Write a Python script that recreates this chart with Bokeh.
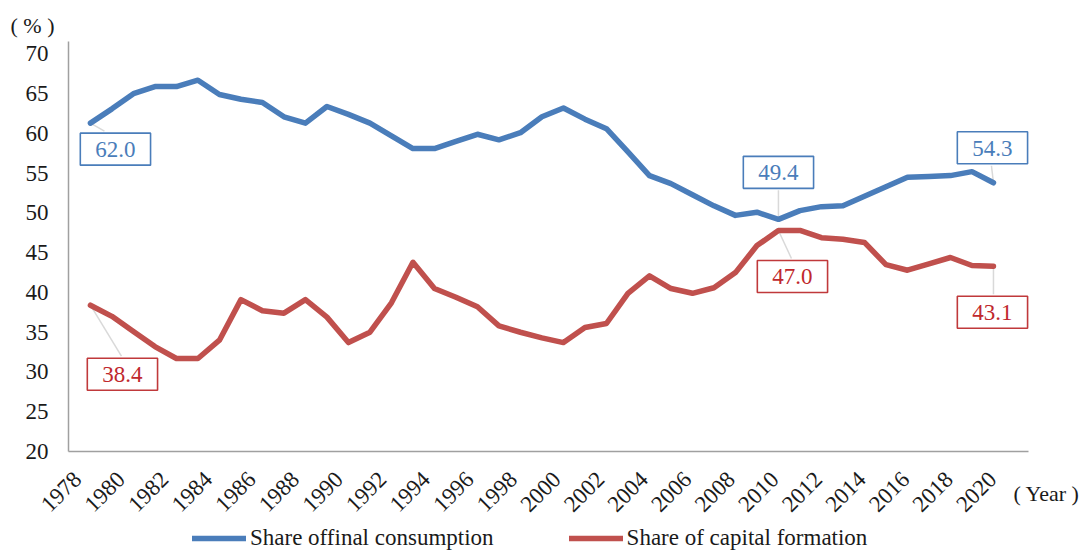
import math
from bokeh.plotting import figure
from bokeh.models import (FixedTicker, Label, Legend, LegendItem, LinearAxis, Range1d)
from bokeh.embed import file_html
from bokeh.resources import INLINE

# ---------------- data ----------------
years = list(range(1978, 2021))
consumption = [61.3, 63.1, 65.0, 65.9, 65.9, 66.7, 64.9, 64.3, 63.9, 62.1,
               61.3, 63.4, 62.4, 61.3, 59.7, 58.1, 58.1, 59.0, 59.9, 59.2,
               60.1, 62.1, 63.2, 61.8, 60.6, 57.7, 54.7, 53.7, 52.3, 50.9,
               49.7, 50.1, 49.2, 50.3, 50.8, 50.9, 52.1, 53.3, 54.5, 54.6,
               54.7, 55.2, 53.8]
capital = [38.4, 37.0, 35.1, 33.2, 31.7, 31.7, 34.0, 39.1, 37.7, 37.4,
           39.1, 36.9, 33.7, 35.0, 38.7, 43.8, 40.5, 39.4, 38.2, 35.8,
           35.0, 34.3, 33.7, 35.6, 36.1, 39.9, 42.1, 40.5, 39.9, 40.6,
           42.5, 45.9, 47.8, 47.8, 46.9, 46.7, 46.3, 43.5, 42.8, 43.6,
           44.4, 43.4, 43.3]
x_ticks = list(range(1978, 2021, 2))
y_ticks = list(range(20, 71, 5))

# callouts: (series, year, label text)
callout_series = ["c", "k", "c", "k", "c", "k"]
callout_years = [1978, 1978, 2010, 2010, 2020, 2020]
callout_texts = ["62.0", "38.4", "49.4", "47.0", "54.3", "43.1"]

series_names = ["Share offinal consumption", "Share of capital formation"]
y_unit = "( % )"
x_unit = "( Year )"

# ---------------- styles / layout ----------------
BLUE = "#4A7DBA"
RED = "#C0504D"
BLUE_TXT = "#4A7DBA"
RED_TXT = "#C0282D"
FONT = "Liberation Serif"
FS = "23px"

# pixel offsets (box centre, leader end) relative to each callout point, y up
box_offsets = [(25, -26), (32, -69), (0, 47), (14, -46), (-1, 35), (-1, -46)]
leader_offsets = [(14, -8), (31, -51), (0, 29), (13, -28), (-2, 17), (0, -28)]

W, H = 1087, 551
FL, FT, FR, FB = 68, 41, 1028, 451   # plot-area edges in canvas pixels
X0, X1 = 1976.98, 2021.63
Y0, Y1 = 20.0, 71.57
px_x = (FR - FL) / (X1 - X0)
px_y = (FB - FT) / (Y1 - Y0)

def cx(px):
    return X0 + (px - FL) / px_x

def cy(py):
    return Y0 + (FB - py) / px_y

# category-label scale of the x axis (labels sit slightly apart from the points)
LAB0, LAB_STEP = 77.0, 21.79

def lx(px):
    return 1978 + (px - LAB0) / LAB_STEP

# the frame covers the whole canvas; axes are pinned to the plot area
p = figure(width=W, height=H, output_backend="svg", toolbar_location=None,
           x_range=Range1d(cx(0), cx(W)), y_range=Range1d(cy(H), cy(0)),
           min_border=0, x_axis_location=None)
p.extra_x_ranges = {"lab": Range1d(lx(0), lx(W))}
xaxis = LinearAxis(x_range_name="lab")
p.add_layout(xaxis, "below")

p.title.visible = False
p.outline_line_color = None
p.xgrid.visible = False
p.ygrid.visible = False
p.background_fill_color = "white"
p.border_fill_color = "white"

for ax in (xaxis, p.yaxis[0]):
    ax.axis_line_color = "#A0A0A0"
    ax.axis_line_width = 1.5
    ax.major_tick_line_color = None
    ax.minor_tick_line_color = None
    ax.major_tick_out = 0
    ax.major_tick_in = 0
    ax.major_label_text_font = FONT
    ax.major_label_text_font_size = FS
    ax.major_label_text_color = "#1a1a1a"

p.yaxis.ticker = FixedTicker(ticks=y_ticks)
p.yaxis.fixed_location = X0
p.yaxis.bounds = (Y0, Y1)
p.yaxis.major_label_standoff = 20
xaxis.ticker = FixedTicker(ticks=x_ticks)
xaxis.fixed_location = Y0
xaxis.bounds = (lx(FL), lx(FR))
xaxis.major_label_orientation = math.pi / 4
xaxis.major_label_standoff = 24

# leader lines (drawn first, behind)
lx0, ly0, lx1, ly1 = [], [], [], []
for s, yr, (dx, dy) in zip(callout_series, callout_years, leader_offsets):
    v = (consumption if s == "c" else capital)[years.index(yr)]
    lx0.append(yr); ly0.append(v)
    lx1.append(yr + dx / px_x); ly1.append(v + dy / px_y)
p.segment(lx0, ly0, lx1, ly1, line_color="#D9D9D9", line_width=1.5)

r_c = p.line(years, consumption, line_color=BLUE, line_width=5.5,
             line_join="round", line_cap="round")
r_k = p.line(years, capital, line_color=RED, line_width=5.5,
             line_join="round", line_cap="round")

for s, yr, txt, (dx, dy) in zip(callout_series, callout_years, callout_texts, box_offsets):
    v = (consumption if s == "c" else capital)[years.index(yr)]
    col = BLUE if s == "c" else "#C0393B"
    tcol = BLUE_TXT if s == "c" else RED_TXT
    p.add_layout(Label(x=yr, y=v, x_offset=dx, y_offset=dy, text=txt,
                       text_font=FONT, text_font_size=FS, text_color=tcol,
                       text_align="center", text_baseline="middle",
                       background_fill_color="white",
                       border_line_color=col, border_line_width=1.6,
                       padding=dict(left=15, right=15, top=9, bottom=8)))

# axis unit labels
p.add_layout(Label(x=cx(10), y=cy(25), text=y_unit,
                   text_font=FONT, text_font_size="22px", text_color="#1a1a1a",
                   text_align="left", text_baseline="middle"))
p.add_layout(Label(x=cx(1013), y=cy(493), text=x_unit,
                   text_font=FONT, text_font_size="22px", text_color="#1a1a1a",
                   text_align="left", text_baseline="middle"))

legend = Legend(items=[LegendItem(label=series_names[0], renderers=[r_c]),
                       LegendItem(label=series_names[1], renderers=[r_k])],
                orientation="horizontal", location=(192, 0),
                label_text_font=FONT, label_text_font_size=FS,
                label_text_color="#1a1a1a", glyph_width=54, glyph_height=20,
                label_standoff=4, spacing=75, padding=0, margin=0,
                border_line_color=None, background_fill_alpha=0)
p.add_layout(legend, "center")

open("out.html", "w").write(file_html(p, INLINE))
